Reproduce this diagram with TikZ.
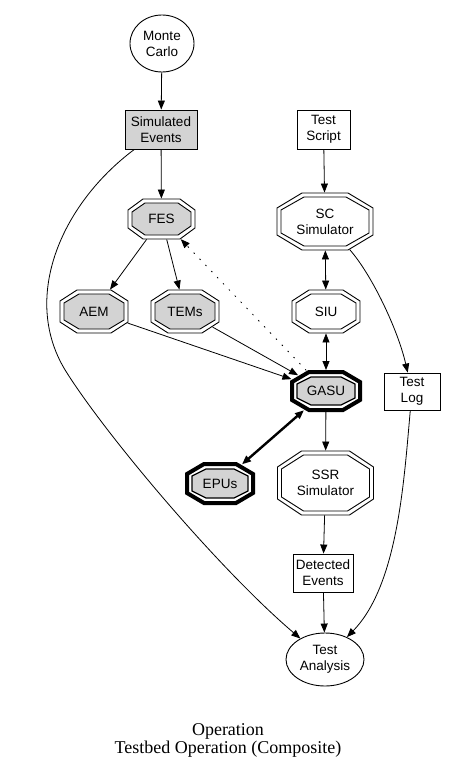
\documentclass[tikz,border=0pt]{standalone}
\usepackage{fontspec}
\setmainfont{Liberation Serif}
\newfontfamily\nodefont{Liberation Sans}
\usetikzlibrary{shapes.geometric,arrows.meta}
\definecolor{fillg}{RGB}{211,211,211}
\pgfkeys{/pgf/oct cx/.initial=10pt, /pgf/oct cy/.initial=8pt}
\makeatletter
\pgfdeclareshape{octbox}{%
  \inheritsavedanchors[from=rectangle]%
  \inheritanchor[from=rectangle]{center}%
  \inheritanchor[from=rectangle]{north}%
  \inheritanchor[from=rectangle]{south}%
  \inheritanchor[from=rectangle]{east}%
  \inheritanchor[from=rectangle]{west}%
  \saveddimen{\ocx}{\pgfmathsetlength\pgf@x{\pgfkeysvalueof{/pgf/oct cx}}}%
  \saveddimen{\ocy}{\pgfmathsetlength\pgf@x{\pgfkeysvalueof{/pgf/oct cy}}}%
  \backgroundpath{%
    \southwest \pgf@xa=\pgf@x \pgf@ya=\pgf@y
    \northeast \pgf@xb=\pgf@x \pgf@yb=\pgf@y
    \pgfmathsetlength\pgf@xc{\pgfkeysvalueof{/pgf/outer xsep}}%
    \pgfmathsetlength\pgf@yc{\pgfkeysvalueof{/pgf/outer ysep}}%
    \advance\pgf@xa by\pgf@xc \advance\pgf@ya by\pgf@yc
    \advance\pgf@xb by-\pgf@xc \advance\pgf@yb by-\pgf@yc
    \edef\oct@L{\the\pgf@xa}\edef\oct@R{\the\pgf@xb}%
    \edef\oct@B{\the\pgf@ya}\edef\oct@T{\the\pgf@yb}%
    \pgf@x=\pgf@xa \advance\pgf@x by\ocx \edef\oct@Lc{\the\pgf@x}%
    \pgf@x=\pgf@xb \advance\pgf@x by-\ocx \edef\oct@Rc{\the\pgf@x}%
    \pgf@y=\pgf@ya \advance\pgf@y by\ocy \edef\oct@Bc{\the\pgf@y}%
    \pgf@y=\pgf@yb \advance\pgf@y by-\ocy \edef\oct@Tc{\the\pgf@y}%
    \pgfpathmoveto{\pgfqpoint{\oct@Lc}{\oct@T}}%
    \pgfpathlineto{\pgfqpoint{\oct@Rc}{\oct@T}}%
    \pgfpathlineto{\pgfqpoint{\oct@R}{\oct@Tc}}%
    \pgfpathlineto{\pgfqpoint{\oct@R}{\oct@Bc}}%
    \pgfpathlineto{\pgfqpoint{\oct@Rc}{\oct@B}}%
    \pgfpathlineto{\pgfqpoint{\oct@Lc}{\oct@B}}%
    \pgfpathlineto{\pgfqpoint{\oct@L}{\oct@Bc}}%
    \pgfpathlineto{\pgfqpoint{\oct@L}{\oct@Tc}}%
    \pgfpathclose
  }%
  \anchorborder{%
    \edef\oct@dx{\the\pgf@x}\edef\oct@dy{\the\pgf@y}%
    \southwest \pgf@xa=\pgf@x \pgf@ya=\pgf@y
    \northeast
    \advance\pgf@x by-\pgf@xa \advance\pgf@y by-\pgf@ya
    \pgf@xc=.5\pgf@x \pgf@yc=.5\pgf@y
    \advance\pgf@xa by\pgf@xc \advance\pgf@ya by\pgf@yc
    \edef\oct@ccx{\the\pgf@xa}\edef\oct@ccy{\the\pgf@ya}%
    \edef\oct@a{\the\pgf@xc}\edef\oct@b{\the\pgf@yc}%
    \pgfmathsetmacro\oct@adx{max(abs(\oct@dx),0.01)}%
    \pgfmathsetmacro\oct@ady{max(abs(\oct@dy),0.01)}%
    \pgfmathsetmacro\oct@tr{min(\oct@a/\oct@adx,\oct@b/\oct@ady)}%
    \pgfmathsetmacro\oct@tc{(\ocy*\oct@a+\ocx*\oct@b-\ocx*\ocy)/(\ocy*\oct@adx+\ocx*\oct@ady)}%
    \pgfmathsetmacro\oct@t{min(\oct@tr,\oct@tc)}%
    \pgfmathsetmacro\oct@px{\oct@ccx+\oct@t*\oct@dx}%
    \pgfmathsetmacro\oct@py{\oct@ccy+\oct@t*\oct@dy}%
    \pgf@x=\oct@px pt\relax
    \pgf@y=\oct@py pt\relax
  }%
}
\makeatother
\tikzset{
  every node/.style={font=\nodefont\fontsize{13.5}{16}\selectfont, align=center, inner sep=0pt},
  box/.style={draw, rectangle, line width=0.9pt},
  ell/.style={draw, ellipse, line width=0.9pt},
  octo/.style n args={4}{shape=octbox, draw, line width=0.9pt,
     minimum width=#1, minimum height=#2, oct cx=#3, oct cy=#4},
  edge/.style={line width=0.8pt, -{Triangle[length=9pt,width=7pt]}},
  bedge/.style={line width=0.8pt, {Triangle[length=9pt,width=7pt]}-{Triangle[length=9pt,width=7pt]}},
}
\begin{document}
\begin{tikzpicture}[x=1pt,y=-1pt]
\useasboundingbox (0,0) rectangle (448,773);
% nodes
\node[ell, minimum width=64, minimum height=57] (mc) at (162,43.5) {Monte\\Carlo};
\node[box, fill=fillg, minimum width=72, minimum height=39] (se) at (161,129.5) {Simulated\\Events};
\node[box, minimum width=53, minimum height=39] (ts) at (323.5,129.5) {Test\\Script};
% FES
\node[octo={67}{40}{15}{11}] (fes) at (161.5,219) {};
\node[octo={59}{32}{13}{9}, fill=fillg] at (fes) {FES};
% SC Simulator
\node[octo={96}{57}{25}{15}] (sc) at (325,221.5) {};
\node[octo={88}{49}{23}{13}] at (sc) {SC\\Simulator};
% AEM, TEMs, SIU
\node[octo={68}{43}{17}{11}] (aem) at (94,311.5) {};
\node[octo={60}{35}{15}{9}, fill=fillg] at (aem) {AEM};
\node[octo={68}{43}{17}{11}] (tem) at (185,311.5) {};
\node[octo={60}{35}{15}{9}, fill=fillg] at (tem) {TEMs};
\node[octo={68}{43}{17}{11}] (siu) at (326,311.5) {};
\node[octo={60}{35}{15}{9}] at (siu) {SIU};
% GASU (thick)
\node[octo={68}{38}{17}{10}, line width=4pt] (gasu) at (326,391) {};
\node[octo={58}{28}{14}{7}, line width=1.3pt, fill=fillg] at (gasu) {GASU};
% EPUs (thick)
\node[octo={66}{39}{17}{10}, line width=4pt] (epu) at (220,483.5) {};
\node[octo={56}{29}{14}{7}, line width=1.3pt, fill=fillg] at (epu) {EPUs};
% SSR Simulator
\node[octo={96}{64}{24}{16}] (ssr) at (325.5,483) {};
\node[octo={88}{56}{22}{14}] at (ssr) {SSR\\Simulator};
% boxes
\node[box, minimum width=56, minimum height=37] (tl) at (412,391.5) {Test\\Log};
\node[box, minimum width=60, minimum height=38] (de) at (323,573) {Detected\\Events};
\node[ell, minimum width=78, minimum height=53] (ta) at (325,659.5) {Test\\Analysis};
% caption
\node[font=\fontsize{18}{18}\selectfont] (cap) at (228,740) {Operation\\Testbed Operation (Composite)};
% edges
\draw[edge] (mc) -- (se);
\draw[edge] (se) -- (fes);
\draw[edge] (ts) -- (sc);
\draw[edge] (fes) -- (aem);
\draw[edge] (fes) -- (tem);
\draw[bedge] (sc) -- (siu);
\draw[bedge] (siu) -- (gasu);
\draw[edge, dash pattern=on 1.5pt off 7pt] (gasu) -- (fes);
\draw[edge] (aem) -- (gasu);
\draw[edge] (tem) -- (gasu);
\draw[bedge, line width=2.4pt] (gasu) -- (epu);
\draw[edge] (gasu) -- (ssr);
\draw[edge] (ssr) -- (de);
\draw[edge] (de) -- (ta);
\coordinate (c1) at (67,373);
\draw[edge] (se) .. controls (60,205) and (20,300) .. (c1) .. controls (109,439) and (220,570) .. (ta);
\draw[edge] (sc) .. controls (372,275) and (398,330) .. (tl);
\draw[edge] (tl) .. controls (404,480) and (398,585) .. (ta);
\end{tikzpicture}
\end{document}
